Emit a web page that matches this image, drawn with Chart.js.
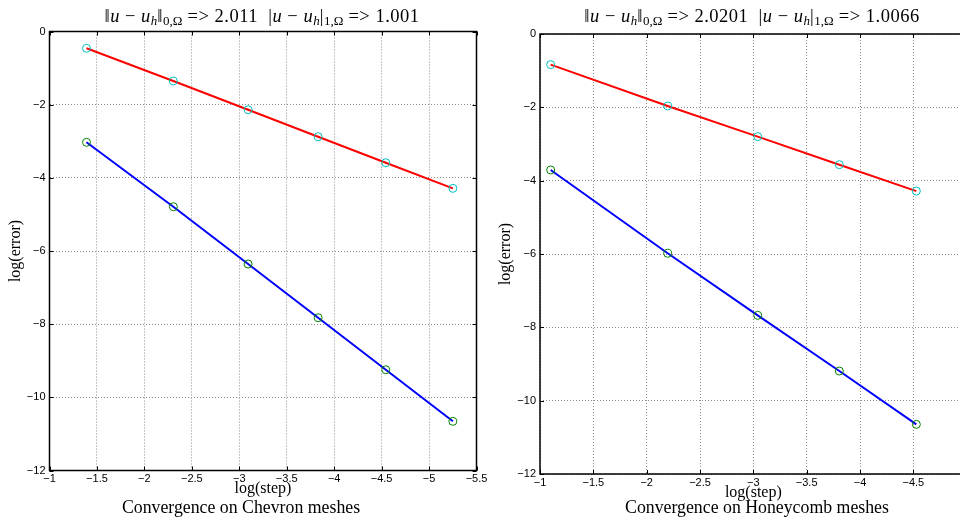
<!DOCTYPE html>
<html>
<head>
<meta charset="utf-8">
<script src="https://cdn.jsdelivr.net/npm/chart.js@4.4.1/dist/chart.umd.min.js"></script>
<style>
  html, body { margin: 0; padding: 0; background: #fff; overflow: hidden; width: 960px; height: 529px; }
  canvas { position: absolute; top: 0; }
  .txt { position: absolute; text-align: center; font-family: "Liberation Serif", "Times New Roman", serif; color: #000; white-space: nowrap; }
  .title { font-size: 18.5px; letter-spacing: 0.5px; line-height: 20px; top: 6px; width: 440px; }
  .cap { font-size: 17.8px; line-height: 22px; top: 496px; width: 400px; }
  sub { font-size: 13px; letter-spacing: 0; vertical-align: -3px; line-height: 0; }
</style>
</head>
<body>
<canvas id="chevron" width="495" height="529" style="left:0"></canvas>
<canvas id="honey" width="500" height="529" style="left:480px"></canvas>

<div class="txt title" style="left:42px">‖<i>u</i> − <i>u</i><sub><i>h</i></sub>‖<sub>0,Ω</sub> =&gt; 2.011 &nbsp;|<i>u</i> − <i>u</i><sub><i>h</i></sub>|<sub>1,Ω</sub> =&gt; 1.001</div>
<div class="txt title" style="left:532px">‖<i>u</i> − <i>u</i><sub><i>h</i></sub>‖<sub>0,Ω</sub> =&gt; 2.0201 &nbsp;|<i>u</i> − <i>u</i><sub><i>h</i></sub>|<sub>1,Ω</sub> =&gt; 1.0066</div>
<div class="txt cap" style="left:41px">Convergence on Chevron meshes</div>
<div class="txt cap" style="left:557px">Convergence on Honeycomb meshes</div>

<script>
// data (log of mesh step vs log of error)
var chevronStep = [-1.390, -2.305, -3.093, -3.831, -4.544, -5.251];
var chevronH1 = [-0.459, -1.353, -2.138, -2.876, -3.587, -4.287];
var chevronL2 = [-3.029, -4.790, -6.356, -7.824, -9.246, -10.656];

var honeyStep = [-1.100, -2.197, -3.041, -3.806, -4.528];
var honeyH1 = [-0.835, -1.962, -2.800, -3.564, -4.284];
var honeyL2 = [-3.708, -5.981, -7.673, -9.192, -10.647];

var chevronXTicks = [-1, -1.5, -2, -2.5, -3, -3.5, -4, -4.5, -5, -5.5];
var honeyXTicks = [-1, -1.5, -2, -2.5, -3, -3.5, -4, -4.5, -5];
var yTicks = [0, -2, -4, -6, -8, -10, -12];

function pts(xs, ys) {
  return xs.map(function (x, i) { return { x: x, y: ys[i] }; });
}

function minus(v) {
  return String(v).replace('-', '\u2212');
}

// matlab style box with inward ticks
var boxPlugin = {
  id: 'box',
  afterDraw: function (chart) {
    var ctx = chart.ctx, a = chart.chartArea, x = chart.scales.x, y = chart.scales.y;
    ctx.save();
    ctx.strokeStyle = '#000';
    ctx.lineWidth = 1;
    ctx.beginPath();
    x.ticks.forEach(function (t) {
      var px = Math.round(x.getPixelForValue(t.value)) + 0.5;
      ctx.moveTo(px, a.top); ctx.lineTo(px, a.top + 4);
      ctx.moveTo(px, a.bottom); ctx.lineTo(px, a.bottom - 4);
    });
    y.ticks.forEach(function (t) {
      var py = Math.round(y.getPixelForValue(t.value)) + 0.5;
      ctx.moveTo(a.left, py); ctx.lineTo(a.left + 4, py);
      ctx.moveTo(a.right, py); ctx.lineTo(a.right - 4, py);
    });
    ctx.stroke();
    ctx.lineWidth = 1.5;
    ctx.strokeRect(a.left, a.top, a.right - a.left, a.bottom - a.top);
    ctx.restore();
  }
};

function makeChart(id, steps, h1, l2, xTicks, xMin, pad, yWidth) {
  var tickFont = { family: 'Liberation Sans, Arial, sans-serif', size: 11 };
  var labFont = { family: 'Liberation Serif, Times New Roman, serif', size: 16 };
  return new Chart(document.getElementById(id).getContext('2d'), {
    type: 'line',
    data: {
      datasets: [
        {
          data: pts(steps, h1),
          borderColor: '#ff0000',
          borderWidth: 2,
          pointRadius: 4,
          pointBorderWidth: 1,
          pointBorderColor: '#00bfbf',
          pointBackgroundColor: 'rgba(0,0,0,0)'
        },
        {
          data: pts(steps, l2),
          borderColor: '#0000ff',
          borderWidth: 2,
          pointRadius: 4,
          pointBorderWidth: 1,
          pointBorderColor: '#008000',
          pointBackgroundColor: 'rgba(0,0,0,0)'
        }
      ]
    },
    options: {
      responsive: false,
      animation: false,
      layout: { padding: pad, autoPadding: false },
      plugins: { legend: { display: false }, tooltip: { enabled: false } },
      scales: {
        x: {
          type: 'linear',
          reverse: true,
          min: xMin,
          max: -1,
          afterBuildTicks: function (s) { s.ticks = xTicks.map(function (v) { return { value: v }; }); },
          afterFit: function (s) { s.height = 28; s.paddingLeft = 0; s.paddingRight = 0; },
          ticks: { color: '#000', font: tickFont, padding: 2, maxRotation: 0, autoSkip: false,
            callback: function (v) { return minus(v); } },
          grid: { color: '#8c8c8c', lineWidth: 1, drawTicks: false },
          border: { display: false, dash: [1, 2] },
          title: { display: true, text: 'log(step)', color: '#000', font: labFont, padding: 0 }
        },
        y: {
          min: -12,
          max: 0,
          afterBuildTicks: function (s) { s.ticks = yTicks.map(function (v) { return { value: v }; }); },
          afterFit: function (s) { s.width = yWidth; s.paddingTop = 0; s.paddingBottom = 0; },
          ticks: { color: '#000', font: tickFont, padding: 4, autoSkip: false,
            callback: function (v) { return minus(v); } },
          grid: { color: '#8c8c8c', lineWidth: 1, drawTicks: false },
          border: { display: false, dash: [1, 2] },
          title: { display: true, text: 'log(error)', color: '#000', font: labFont, padding: { top: 6, bottom: 0 } }
        }
      }
    },
    plugins: [boxPlugin]
  });
}

makeChart('chevron', chevronStep, chevronH1, chevronL2, chevronXTicks, -5.5,
  { left: 0, top: 31.5, right: 18.5, bottom: 30.5 }, 49.5);
makeChart('honey', honeyStep, honeyH1, honeyL2, honeyXTicks, -5,
  { left: 10.5, top: 34, right: 13.3, bottom: 27 }, 49.5);
</script>
</body>
</html>
